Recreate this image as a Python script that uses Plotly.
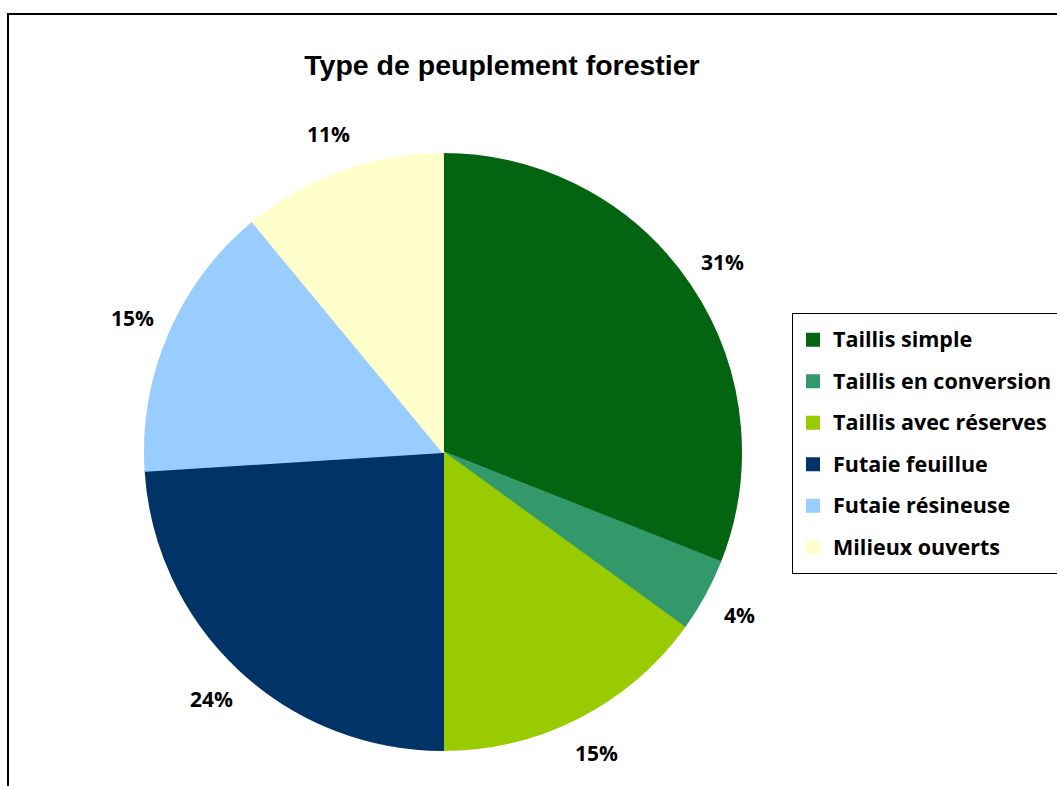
import math
import plotly.graph_objects as go

# Répartition des types de peuplement (en %)
categories = [
    "Taillis simple",
    "Taillis en conversion",
    "Taillis avec réserves",
    "Futaie feuillue",
    "Futaie résineuse",
    "Milieux ouverts",
]
values = [31, 4, 15, 24, 15, 11]
colors = ["#036511", "#33996A", "#99CC00", "#003366", "#99CCFF", "#FFFFCC"]

W, H = 1057, 786
CX, CY, R = 443, 452, 298          # pie centre / radius in pixels
LABEL_R = 1.135                    # label distance (fraction of radius)

LABEL_FONT = "Open Sans"
TITLE_FONT = "Liberation Sans"

fig = go.Figure()

fig.add_trace(go.Pie(
    labels=[f"<span style='font-size:21.5px;baseline-shift:4px'>{c}</span>" for c in categories],
    values=values,
    sort=False,
    direction="clockwise",
    rotation=0,
    textinfo="none",
    hoverinfo="label+percent",
    marker=dict(colors=colors, line=dict(color=colors, width=2)),
    domain=dict(x=[(CX - R) / W, (CX + R) / W],
                y=[(H - CY - R) / H, (H - CY + R) / H]),
))

# percentage labels placed outside each slice, on its mid-angle
total = sum(values)
cum = 0
for v in values:
    mid = (cum + v / 2) / total * 2 * math.pi
    cum += v
    px = CX + LABEL_R * R * math.sin(mid)
    py = CY - LABEL_R * R * math.cos(mid)
    fig.add_annotation(
        x=px / W, y=1 - py / H, xref="paper", yref="paper",
        text=f"{round(v / total * 100)}%", showarrow=False,
        xanchor="center", yanchor="middle",
        font=dict(family=LABEL_FONT, size=21, color="black", weight="bold"),
    )

# outer chart frame
fig.add_shape(type="rect", xref="paper", yref="paper",
              x0=8 / W, x1=1.02, y0=-0.02, y1=1 - 14 / H,
              line=dict(color="black", width=2), fillcolor="rgba(0,0,0,0)")

fig.update_layout(
    width=W, height=H,
    margin=dict(l=0, r=0, t=0, b=0, autoexpand=False),
    paper_bgcolor="white", plot_bgcolor="white",
    title=dict(text="Type de peuplement forestier", x=502 / W, xanchor="center",
               y=1 - 65 / H, yanchor="middle",
               font=dict(family=TITLE_FONT, size=28.5, color="black", weight="bold")),
    showlegend=True,
    legend=dict(
        x=792 / W, y=1 - 313 / H, xanchor="left", yanchor="top",
        bordercolor="black", borderwidth=1, bgcolor="white",
        font=dict(family=LABEL_FONT, size=29.6, color="black", weight="bold"),
        traceorder="normal",
    ),
)

fig.write_html("out.html")
